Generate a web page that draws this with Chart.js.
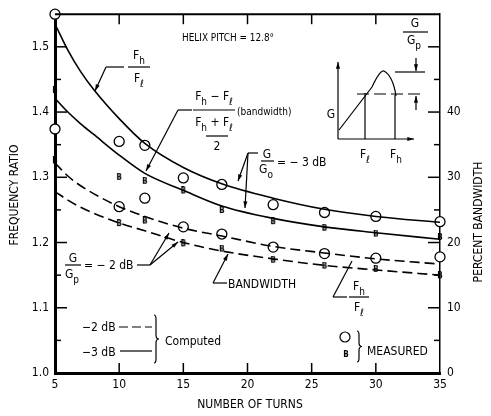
<!DOCTYPE html>
<html>
<head>
<meta charset="utf-8">
<script src="https://cdn.jsdelivr.net/npm/chart.js@4.4.0/dist/chart.umd.min.js"></script>
<style>
  html, body { margin: 0; padding: 0; background: #fff; }
  #wrap { width: 491px; height: 416px; }
</style>
</head>
<body>
<div id="wrap"><canvas id="helixChart" width="491" height="416"></canvas></div>
<script>
// computed curves
const turnsComputed = [5, 6, 7, 8, 10, 12, 15, 18, 22, 26, 30, 35];
const ratio3dB = [1.535, 1.495, 1.462, 1.435, 1.39, 1.352, 1.315, 1.29, 1.268, 1.251, 1.24, 1.231];
const bandwidth3dB = [42.1, 40.0, 38.2, 36.6, 33.4, 30.6, 28.0, 25.6, 23.7, 22.4, 21.5, 20.5];
const ratio2dB = [1.322, 1.302, 1.287, 1.275, 1.255, 1.24, 1.222, 1.21, 1.194, 1.184, 1.175, 1.167];
const bandwidth2dB = [27.8, 26.5, 25.4, 24.5, 23.0, 21.8, 20.0, 18.7, 17.5, 16.5, 15.8, 15.0];

// measured points
const turnsMeasured = [5, 10, 12, 15, 18, 22, 26, 30, 35];
const measRatio3dB = [1.55, 1.355, 1.349, 1.299, 1.289, 1.258, 1.246, 1.240, 1.232];
const measRatio2dB = [1.374, 1.255, 1.268, 1.224, 1.213, 1.193, 1.183, 1.176, 1.178];
const measBandwidth3dB = [43.3, 30.0, 29.4, 27.9, 24.9, 23.2, 22.2, 21.3, 20.8];
const measBandwidth2dB = [32.5, 22.9, 23.3, 19.8, 19.0, 17.3, 16.4, 15.9, 14.9];

// axis ticks
const xTicks = [5, 10, 15, 20, 25, 30, 35];
const yTicks = [1.0, 1.1, 1.2, 1.3, 1.4, 1.5];
const y2Ticks = [0, 10, 20, 30, 40];

const FONT = '"Liberation Sans Narrow", "DejaVu Sans Condensed", "Arial Narrow", sans-serif';

function pts(xs, ys) {
    return xs.map((x, i) => ({ x: x, y: ys[i] }));
}

// little "B" glyph used as the measured bandwidth marker
function makeBMark() {
    const c = document.createElement('canvas');
    c.width = 8;
    c.height = 9;
    const g = c.getContext('2d');
    g.fillStyle = '#000';
    g.font = 'bold 8px ' + FONT;
    g.textAlign = 'center';
    g.textBaseline = 'middle';
    g.fillText('B', 4, 5);
    return c;
}
const bMark = makeBMark();

function line(ctx, x1, y1, x2, y2) {
    ctx.beginPath();
    ctx.moveTo(x1, y1);
    ctx.lineTo(x2, y2);
    ctx.stroke();
}

function arrow(ctx, x1, y1, x2, y2) {
    line(ctx, x1, y1, x2, y2);
    const a = Math.atan2(y2 - y1, x2 - x1);
    ctx.beginPath();
    ctx.moveTo(x2, y2);
    ctx.lineTo(x2 - 7 * Math.cos(a - 0.3), y2 - 7 * Math.sin(a - 0.3));
    ctx.lineTo(x2 - 7 * Math.cos(a + 0.3), y2 - 7 * Math.sin(a + 0.3));
    ctx.closePath();
    ctx.fill();
}

// draws text made of normal and subscript parts
function rich(ctx, parts, x, y, size, align) {
    const widths = parts.map(p => {
        ctx.font = (p[1] ? Math.round(size * 0.8) : size) + 'px ' + FONT;
        return ctx.measureText(p[0]).width;
    });
    const total = widths.reduce((a, b) => a + b, 0);
    let cx = align === 'center' ? x - total / 2 : x;
    ctx.textAlign = 'left';
    ctx.textBaseline = 'alphabetic';
    parts.forEach((p, i) => {
        ctx.font = (p[1] ? Math.round(size * 0.8) : size) + 'px ' + FONT;
        ctx.fillText(p[0], cx, p[1] ? y + size * 0.4 : y);
        cx += widths[i];
    });
    return total;
}

function text(ctx, s, x, y, size, align) {
    ctx.font = size + 'px ' + FONT;
    ctx.textAlign = align || 'left';
    ctx.textBaseline = 'alphabetic';
    ctx.fillText(s, x, y);
}

function brace(ctx, x, y1, y2) {
    const m = (y1 + y2) / 2;
    ctx.beginPath();
    ctx.moveTo(x - 2, y1);
    ctx.quadraticCurveTo(x, y1, x, y1 + 4);
    ctx.lineTo(x, m - 4);
    ctx.quadraticCurveTo(x, m, x + 3, m);
    ctx.quadraticCurveTo(x, m, x, m + 4);
    ctx.lineTo(x, y2 - 4);
    ctx.quadraticCurveTo(x, y2, x - 2, y2);
    ctx.stroke();
}

const annotations = {
    id: 'annotations',
    afterDraw(chart) {
        const ctx = chart.ctx;
        const xs = chart.scales.x, ys = chart.scales.y, y2s = chart.scales.y2;
        const { left, right, top, bottom } = chart.chartArea;
        ctx.save();
        ctx.strokeStyle = '#000';
        ctx.fillStyle = '#000';

        // frame top + inward tick marks
        ctx.lineWidth = 2;
        line(ctx, left, top, right, top);
        ctx.lineWidth = 1.5;
        for (let k = 0; k <= 10; k++) {
            const py = ys.getPixelForValue(1 + k * 0.05);
            line(ctx, left, py, left + (k % 2 === 0 ? 12 : 6), py);
        }
        for (let k = 1; k <= 10; k++) {
            const py = y2s.getPixelForValue(k * 5);
            line(ctx, right - (k % 2 === 0 ? 12 : 6), py, right, py);
        }
        for (let t = 10; t <= 30; t += 5) {
            const px = xs.getPixelForValue(t);
            line(ctx, px, bottom, px, bottom - 10);
            line(ctx, px, top, px, top + 10);
        }

        // axis titles
        text(ctx, 'NUMBER OF TURNS', 250, 408, 12, 'center');
        ctx.save();
        ctx.translate(18, 195);
        ctx.rotate(-Math.PI / 2);
        text(ctx, 'FREQUENCY RATIO', 0, 0, 12, 'center');
        ctx.restore();
        ctx.save();
        ctx.translate(482, 222);
        ctx.rotate(-Math.PI / 2);
        text(ctx, 'PERCENT BANDWIDTH', 0, 0, 12, 'center');
        ctx.restore();

        ctx.save();
        ctx.translate(182, 41);
        ctx.scale(0.9, 1);
        text(ctx, 'HELIX PITCH = 12.8\u00b0', 0, 0, 11);
        ctx.restore();

        ctx.lineWidth = 1.2;
        // Fh/Fl label, top
        rich(ctx, [['F'], ['h', 1]], 139, 59, 12, 'center');
        line(ctx, 128, 67, 150, 67);
        rich(ctx, [['F'], ['\u2113', 1]], 139, 82, 12, 'center');
        line(ctx, 106, 67, 124, 67);
        arrow(ctx, 106, 67, 95, 91);

        // bandwidth fraction
        rich(ctx, [['F'], ['h', 1], [' \u2212 F'], ['\u2113', 1]], 214, 100, 12, 'center');
        line(ctx, 193, 110, 235, 110);
        rich(ctx, [['F'], ['h', 1], [' + F'], ['\u2113', 1]], 214, 126, 12, 'center');
        line(ctx, 206, 136, 228, 136);
        text(ctx, '2', 217, 150, 12, 'center');
        text(ctx, '(bandwidth)', 237, 115, 10);
        line(ctx, 178, 110, 192, 110);
        arrow(ctx, 178, 110, 146, 171);

        // G/G0 = -3 dB
        text(ctx, 'G', 267, 158, 12, 'center');
        line(ctx, 261, 161, 274, 161);
        rich(ctx, [['G'], ['o', 1]], 266, 173, 12, 'center');
        text(ctx, '= \u2212 3 dB', 277, 166, 12);
        line(ctx, 248, 153, 258, 153);
        arrow(ctx, 248, 153, 238, 181);
        arrow(ctx, 248, 153, 245, 208);

        // G/Gp = -2 dB
        text(ctx, 'G', 73, 262, 12, 'center');
        line(ctx, 65, 265, 81, 265);
        rich(ctx, [['G'], ['p', 1]], 72, 278, 12, 'center');
        text(ctx, '= \u2212 2 dB', 84, 269, 12);
        line(ctx, 137, 265, 150, 265);
        arrow(ctx, 150, 265, 169, 233);
        arrow(ctx, 150, 265, 178, 242);

        // BANDWIDTH
        line(ctx, 213, 283, 227, 283);
        arrow(ctx, 213, 283, 228, 254);
        text(ctx, 'BANDWIDTH', 228, 288, 12);

        // Fh/Fl, bottom right
        line(ctx, 333, 297, 347, 297);
        line(ctx, 333, 297, 352, 261);
        rich(ctx, [['F'], ['h', 1]], 359, 290, 12, 'center');
        line(ctx, 349, 297, 369, 297);
        rich(ctx, [['F'], ['\u2113', 1]], 359, 311, 12, 'center');

        // inset sketch
        arrow(ctx, 338, 139, 338, 62);
        arrow(ctx, 338, 139, 414, 139);
        ctx.beginPath();
        ctx.moveTo(339, 130);
        ctx.lineTo(372, 87);
        ctx.quadraticCurveTo(380, 70, 384, 71);
        ctx.quadraticCurveTo(393, 76, 396, 96);
        ctx.stroke();
        line(ctx, 365, 93, 365, 139);
        line(ctx, 395, 95, 395, 139);
        ctx.setLineDash([12, 5]);
        line(ctx, 357, 94, 425, 94);
        ctx.setLineDash([]);
        line(ctx, 395, 72, 425, 72);
        arrow(ctx, 416, 58, 416, 71);
        arrow(ctx, 416, 110, 416, 96);
        text(ctx, 'G', 331, 118, 12, 'center');
        rich(ctx, [['F'], ['\u2113', 1]], 360, 158, 12);
        rich(ctx, [['F'], ['h', 1]], 390, 158, 12);
        text(ctx, 'G', 415, 27, 12, 'center');
        line(ctx, 403, 32, 428, 32);
        rich(ctx, [['G'], ['p', 1]], 414, 44, 12, 'center');

        // computed legend
        text(ctx, '\u22122 dB', 82, 331, 12);
        ctx.setLineDash([9, 4]);
        line(ctx, 119, 327, 152, 327);
        ctx.setLineDash([]);
        text(ctx, '\u22123 dB', 82, 356, 12);
        line(ctx, 120, 351, 152, 351);
        brace(ctx, 156, 315, 363);
        text(ctx, 'Computed', 165, 345, 12);

        // measured legend
        ctx.fillStyle = '#fff';
        ctx.beginPath();
        ctx.arc(345, 337, 5, 0, Math.PI * 2);
        ctx.fill();
        ctx.stroke();
        ctx.fillStyle = '#000';
        ctx.drawImage(bMark, 342, 350);
        brace(ctx, 359, 331, 362);
        text(ctx, 'MEASURED', 367, 355, 12);

        ctx.restore();
    }
};

const solid = { borderColor: '#000', borderWidth: 1.6, pointRadius: 0, cubicInterpolationMode: 'monotone', fill: false };
const dashed = Object.assign({}, solid, { borderDash: [10, 5] });
const circles = { showLine: false, pointStyle: 'circle', pointRadius: 5, pointBackgroundColor: '#fff', pointBorderColor: '#000', pointBorderWidth: 1.3 };
const bees = { showLine: false, pointStyle: bMark, pointRadius: 4 };

new Chart(document.getElementById('helixChart'), {
    type: 'line',
    data: {
        datasets: [
            Object.assign({ label: 'Fh/Fl -3 dB', data: pts(turnsComputed, ratio3dB), yAxisID: 'y' }, solid),
            Object.assign({ label: 'Bandwidth -3 dB', data: pts(turnsComputed, bandwidth3dB), yAxisID: 'y2' }, solid),
            Object.assign({ label: 'Fh/Fl -2 dB', data: pts(turnsComputed, ratio2dB), yAxisID: 'y' }, dashed),
            Object.assign({ label: 'Bandwidth -2 dB', data: pts(turnsComputed, bandwidth2dB), yAxisID: 'y2' }, dashed),
            Object.assign({ label: 'Measured Fh/Fl -3 dB', data: pts(turnsMeasured, measRatio3dB), yAxisID: 'y' }, circles),
            Object.assign({ label: 'Measured Fh/Fl -2 dB', data: pts(turnsMeasured, measRatio2dB), yAxisID: 'y' }, circles),
            Object.assign({ label: 'Measured bandwidth -3 dB', data: pts(turnsMeasured, measBandwidth3dB), yAxisID: 'y2' }, bees),
            Object.assign({ label: 'Measured bandwidth -2 dB', data: pts(turnsMeasured, measBandwidth2dB), yAxisID: 'y2' }, bees)
        ]
    },
    options: {
        responsive: false,
        animation: false,
        clip: false,
        layout: { padding: { top: 12, left: 0, right: 0, bottom: 0 } },
        plugins: { legend: { display: false }, tooltip: { enabled: false } },
        scales: {
            x: {
                type: 'linear', position: 'bottom', min: 5, max: 35,
                afterBuildTicks: s => { s.ticks = xTicks.map(v => ({ value: v })); },
                afterFit: s => { s.height = 43; },
                ticks: { color: '#000', padding: 5, maxRotation: 0, font: { family: FONT, size: 12 } },
                grid: { display: false, drawTicks: false },
                border: { display: true, color: '#000', width: 3 }
            },
            y: {
                type: 'linear', position: 'left', min: 1.0, max: 1.55,
                afterBuildTicks: s => { s.ticks = yTicks.map(v => ({ value: v })); },
                afterFit: s => { s.width = 55; },
                ticks: { color: '#000', padding: 6, callback: v => v.toFixed(1), font: { family: FONT, size: 12 } },
                grid: { display: false, drawTicks: false },
                border: { display: true, color: '#000', width: 3 }
            },
            y2: {
                type: 'linear', position: 'right', min: 0, max: 55,
                afterBuildTicks: s => { s.ticks = y2Ticks.map(v => ({ value: v })); },
                afterFit: s => { s.width = 51; },
                ticks: { color: '#000', padding: 7, font: { family: FONT, size: 12 } },
                grid: { display: false, drawTicks: false },
                border: { display: true, color: '#000', width: 1.5 }
            }
        }
    },
    plugins: [annotations]
});
</script>
</body>
</html>
